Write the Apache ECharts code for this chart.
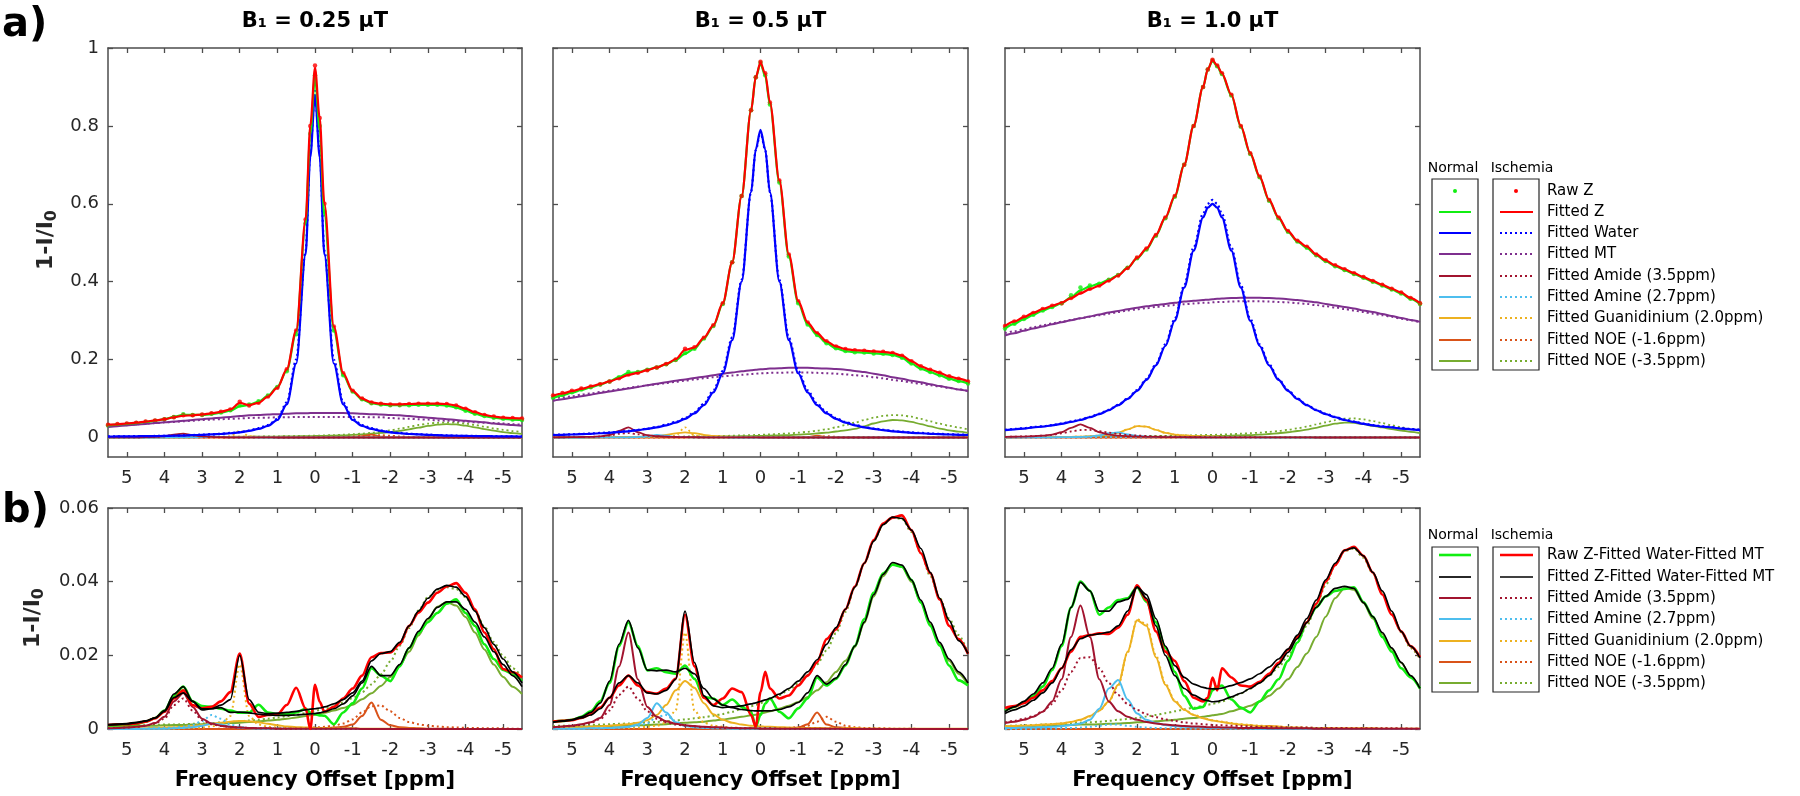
<!DOCTYPE html>
<html><head><meta charset="utf-8">
<script src="https://cdn.jsdelivr.net/npm/echarts@6/dist/echarts.min.js"></script>
<style>html,body{margin:0;padding:0;background:#fff}#c{width:1800px;height:796px}</style>
</head><body><div id="c"></div>
<script>
// ---------------- DATA ----------------
const X = [5.5,5.25,5,4.75,4.5,4.25,4,3.75,3.5,3.25,3,2.75,
 2.5,2.25,2,1.75,1.5,1.25,1,0.75,0.5,0.25,0.125,0,
 -0.125,-0.25,-0.5,-0.75,-1,-1.25,-1.5,-1.75,-2,-2.25,-2.5,-2.75,
 -3,-3.25,-3.5,-3.75,-4,-4.25,-4.5,-4.75,-5,-5.25,-5.5];

const B1_TITLES = ['B\u2081 = 0.25 \u00b5T','B\u2081 = 0.5 \u00b5T','B\u2081 = 1.0 \u00b5T'];
const X_TICKS = [5,4,3,2,1,0,-1,-2,-3,-4,-5];
const Y_TICKS_TOP = [0,0.2,0.4,0.6,0.8,1];
const Y_TICKS_BOT = [0,0.02,0.04,0.06];
const X_NAME = 'Frequency Offset [ppm]';
const LEGEND_TOP = ['Raw Z','Fitted Z','Fitted Water','Fitted MT','Fitted Amide (3.5ppm)','Fitted Amine (2.7ppm)','Fitted Guanidinium (2.0ppm)','Fitted NOE (-1.6ppm)','Fitted NOE (-3.5ppm)'];
const LEGEND_BOT = ['Raw Z-Fitted Water-Fitted MT','Fitted Z-Fitted Water-Fitted MT','Fitted Amide (3.5ppm)','Fitted Amine (2.7ppm)','Fitted Guanidinium (2.0ppm)','Fitted NOE (-1.6ppm)','Fitted NOE (-3.5ppm)'];

// ===== B1 = 0.25 uT =====
const zRawN_a = [0.031,0.033,0.035,0.037,0.040,0.043,0.047,0.053,0.060,0.058,0.058,0.061,
 0.064,0.070,0.083,0.085,0.093,0.108,0.130,0.170,0.265,0.55,0.78,0.93,
 0.80,0.58,0.275,0.16,0.118,0.098,0.088,0.085,0.083,0.083,0.083,0.084,
 0.084,0.084,0.082,0.078,0.069,0.061,0.055,0.051,0.048,0.046,0.045];
const zFitN_a = [0.031,0.033,0.035,0.037,0.040,0.043,0.047,0.053,0.058,0.058,0.058,0.060,
 0.064,0.069,0.080,0.084,0.092,0.107,0.130,0.172,0.27,0.55,0.78,0.925,
 0.79,0.57,0.275,0.16,0.118,0.098,0.088,0.085,0.083,0.083,0.083,0.084,
 0.084,0.084,0.082,0.077,0.069,0.061,0.055,0.051,0.048,0.046,0.045];
const zRawI_a = [0.033,0.035,0.036,0.038,0.041,0.044,0.047,0.052,0.057,0.057,0.059,0.062,
 0.066,0.072,0.092,0.082,0.089,0.105,0.128,0.175,0.275,0.56,0.80,0.955,
 0.82,0.60,0.285,0.165,0.12,0.10,0.09,0.087,0.085,0.085,0.086,0.087,
 0.087,0.087,0.086,0.082,0.074,0.065,0.058,0.054,0.051,0.050,0.049];
const zFitI_a = [0.033,0.034,0.036,0.038,0.041,0.044,0.047,0.052,0.056,0.057,0.059,0.062,
 0.066,0.072,0.089,0.083,0.089,0.105,0.128,0.175,0.275,0.56,0.80,0.95,
 0.82,0.60,0.285,0.165,0.12,0.10,0.09,0.087,0.085,0.085,0.086,0.087,
 0.087,0.087,0.086,0.082,0.074,0.065,0.058,0.054,0.051,0.050,0.049];
const waterN_a = [0.0025,0.0027,0.003,0.0032,0.0035,0.0037,0.004,0.0045,0.005,0.006,0.007,0.008,
 0.009,0.011,0.013,0.017,0.022,0.03,0.045,0.085,0.19,0.47,0.72,0.88,
 0.72,0.47,0.19,0.085,0.045,0.03,0.022,0.017,0.013,0.011,0.009,0.008,
 0.007,0.006,0.005,0.0045,0.004,0.0037,0.0035,0.0032,0.003,0.0027,0.0025];
const waterI_a = [0.0027,0.0029,0.0032,0.0034,0.0037,0.004,0.0043,0.0048,0.0054,0.0064,0.0075,0.0086,
 0.0097,0.0118,0.014,0.018,0.024,0.032,0.048,0.09,0.20,0.48,0.73,0.89,
 0.73,0.48,0.20,0.09,0.048,0.032,0.024,0.018,0.014,0.0118,0.0097,0.0086,
 0.0075,0.0064,0.0054,0.0048,0.0043,0.004,0.0037,0.0034,0.0032,0.0029,0.0027];
const mtN_a = [0.027,0.029,0.031,0.033,0.035,0.037,0.039,0.041,0.043,0.045,0.047,0.049,
 0.051,0.053,0.055,0.057,0.058,0.059,0.060,0.061,0.062,0.062,0.063,0.063,
 0.063,0.063,0.063,0.063,0.062,0.061,0.060,0.059,0.058,0.057,0.055,0.053,
 0.051,0.049,0.047,0.045,0.043,0.041,0.039,0.036,0.034,0.032,0.030];
const mtI_a = [0.030,0.031,0.033,0.034,0.036,0.037,0.039,0.040,0.042,0.043,0.045,0.046,
 0.047,0.048,0.049,0.050,0.051,0.051,0.052,0.052,0.053,0.053,0.053,0.053,
 0.053,0.053,0.053,0.053,0.053,0.053,0.052,0.052,0.050,0.049,0.048,0.047,
 0.046,0.044,0.043,0.042,0.041,0.039,0.038,0.037,0.036,0.034,0.033];
const dRawN_a = [0.0010,0.0011,0.0012,0.0014,0.0020,0.0030,0.0050,0.0090,0.0115,0.0075,0.0062,0.0060,
 0.0055,0.0050,0.0044,0.0045,0.0066,0.0045,0.0040,0.0040,0.0045,0.0055,0.0045,0.0040,
 0.0037,0.0036,0.0013,0.0045,0.0070,0.0110,0.0165,0.0145,0.0130,0.0170,0.0220,0.0260,
 0.0290,0.0315,0.0340,0.0352,0.0315,0.0280,0.0230,0.0190,0.0160,0.0150,0.0130];
const dRawI_a = [0.0011,0.0013,0.0013,0.0015,0.0020,0.0029,0.0047,0.0083,0.0105,0.0065,0.0056,0.0060,
 0.0075,0.0100,0.0205,0.0069,0.0033,0.0038,0.0040,0.0065,0.0112,0.0056,0.0000,0.0120,
 0.0074,0.0047,0.0060,0.0083,0.0110,0.0145,0.0195,0.0206,0.0208,0.0230,0.0280,0.0316,
 0.0343,0.0370,0.0387,0.0396,0.0370,0.0325,0.0262,0.0217,0.0163,0.0154,0.0140];
const dFitN_a = [0.0011,0.0012,0.0014,0.0017,0.0021,0.0030,0.0050,0.0095,0.0115,0.0075,0.0052,0.0055,
 0.0058,0.0045,0.0046,0.0044,0.0040,0.0038,0.0037,0.0037,0.0038,0.0040,0.0041,0.0042,
 0.0044,0.0047,0.0055,0.0068,0.0090,0.0125,0.0170,0.0145,0.0145,0.0175,0.0220,0.0265,
 0.0300,0.0330,0.0345,0.0345,0.0325,0.0290,0.0250,0.0210,0.0175,0.0145,0.0115];
const dFitI_a = [0.0012,0.0013,0.0015,0.0018,0.0022,0.0030,0.0048,0.0085,0.0098,0.0075,0.0055,0.0055,
 0.0065,0.0080,0.0200,0.0080,0.0045,0.0042,0.0043,0.0045,0.0048,0.0052,0.0054,0.0055,
 0.0057,0.0060,0.0068,0.0080,0.0098,0.0130,0.0185,0.0205,0.0210,0.0235,0.0280,0.0320,
 0.0355,0.0380,0.0390,0.0385,0.0360,0.0320,0.0275,0.0230,0.0190,0.0155,0.0125];
const amideN_a = [0.0002,0.0003,0.0004,0.0006,0.0009,0.0016,0.0033,0.0075,0.0098,0.0060,0.0028,0.0015,
 0.0009,0.0006,0.0004,0.0003,0.0002,0.0002,0.0001,0.0001,0.0001,0.0001,0.0001,0.0001,
 0.0001,0.0001,0.0001,0.0001,0.0001,0,0,0,0,0,0,0,
 0,0,0,0,0,0,0,0,0,0,0];
const amideI_a = [0.0002,0.0003,0.0004,0.0006,0.0009,0.0015,0.0028,0.0065,0.0083,0.0050,0.0024,0.0013,
 0.0008,0.0005,0.0004,0.0003,0.0002,0.0002,0.0001,0.0001,0.0001,0.0001,0.0001,0.0001,
 0.0001,0.0001,0.0001,0.0001,0.0001,0,0,0,0,0,0,0,
 0,0,0,0,0,0,0,0,0,0,0];
const amineN_a = [0,0,0,0,0.0001,0.0001,0.0001,0.0002,0.0003,0.0005,0.0009,0.0015,
 0.0012,0.0006,0.0003,0.0002,0.0001,0.0001,0.0001,0,0,0,0,0,
 0,0,0,0,0,0,0,0,0,0,0,0,
 0,0,0,0,0,0,0,0,0,0,0];
const amineI_a = [0,0,0,0.0001,0.0001,0.0002,0.0003,0.0004,0.0006,0.0011,0.0022,0.0038,
 0.0028,0.0012,0.0006,0.0003,0.0002,0.0001,0.0001,0.0001,0,0,0,0,
 0,0,0,0,0,0,0,0,0,0,0,0,
 0,0,0,0,0,0,0,0,0,0,0];
const guanN_a = [0.0001,0.0001,0.0001,0.0002,0.0002,0.0003,0.0004,0.0005,0.0006,0.0008,0.0011,0.0014,
 0.0017,0.0020,0.0022,0.0021,0.0018,0.0014,0.0010,0.0007,0.0005,0.0004,0.0004,0.0003,
 0.0003,0.0003,0.0002,0.0002,0.0002,0.0001,0.0001,0.0001,0.0001,0.0001,0.0001,0.0001,
 0,0,0,0,0,0,0,0,0,0,0];
const guanI_a = [0,0,0,0,0,0.0001,0.0001,0.0001,0.0002,0.0003,0.0004,0.0007,
 0.0012,0.0035,0.0175,0.0035,0.0012,0.0006,0.0004,0.0003,0.0002,0.0001,0.0001,0.0001,
 0.0001,0.0001,0.0001,0,0,0,0,0,0,0,0,0,
 0,0,0,0,0,0,0,0,0,0,0];
const noe16N_a = [0,0,0,0,0,0,0,0,0,0,0,0,
 0,0,0,0,0,0,0,0,0.0001,0.0001,0.0001,0.0001,
 0.0002,0.0002,0.0004,0.0006,0.0012,0.0035,0.0072,0.0025,0.0010,0.0005,0.0003,0.0002,
 0.0001,0.0001,0.0001,0,0,0,0,0,0,0,0];
const noe16I_a = [0,0,0,0,0,0,0,0,0,0,0,0,
 0.0001,0.0001,0.0001,0.0001,0.0001,0.0002,0.0002,0.0002,0.0003,0.0003,0.0004,0.0004,
 0.0005,0.0006,0.0009,0.0015,0.0026,0.0045,0.0062,0.0064,0.0048,0.0030,0.0019,0.0013,
 0.0009,0.0007,0.0005,0.0004,0.0003,0.0003,0.0002,0.0002,0.0002,0.0001,0.0001];
const noe35N_a = [0.0007,0.0007,0.0008,0.0008,0.0009,0.0009,0.0010,0.0011,0.0011,0.0012,0.0013,0.0014,
 0.0015,0.0016,0.0017,0.0019,0.0021,0.0023,0.0025,0.0028,0.0031,0.0035,0.0037,0.0039,
 0.0041,0.0044,0.0050,0.0057,0.0066,0.0081,0.0097,0.0117,0.0141,0.0173,0.0210,0.0254,
 0.0297,0.0332,0.0345,0.0335,0.0304,0.0262,0.0216,0.0175,0.0141,0.0115,0.0095];
const noe35I_a = [0.0008,0.0008,0.0009,0.0009,0.0010,0.0011,0.0012,0.0012,0.0013,0.0014,0.0015,0.0016,
 0.0018,0.0019,0.0021,0.0023,0.0025,0.0028,0.0031,0.0035,0.0039,0.0043,0.0046,0.0049,
 0.0052,0.0055,0.0062,0.0072,0.0084,0.0100,0.0121,0.0148,0.0183,0.0226,0.0274,0.0322,
 0.0358,0.0378,0.0385,0.0380,0.0358,0.0322,0.0278,0.0236,0.0198,0.0165,0.0140];

// ===== B1 = 0.5 uT =====
const zRawN_b = [0.102,0.109,0.116,0.123,0.129,0.136,0.144,0.155,0.168,0.168,0.174,0.180,
 0.188,0.199,0.217,0.228,0.254,0.286,0.343,0.45,0.62,0.84,0.925,0.962,
 0.93,0.855,0.655,0.465,0.345,0.29,0.263,0.242,0.229,0.222,0.219,0.218,
 0.216,0.215,0.212,0.205,0.190,0.177,0.168,0.160,0.151,0.145,0.139];
const zFitN_b = [0.101,0.108,0.115,0.122,0.129,0.136,0.144,0.155,0.166,0.168,0.174,0.180,
 0.188,0.199,0.215,0.228,0.254,0.286,0.343,0.45,0.62,0.84,0.925,0.96,
 0.928,0.855,0.655,0.465,0.345,0.29,0.263,0.242,0.229,0.222,0.219,0.218,
 0.216,0.215,0.212,0.205,0.190,0.177,0.168,0.160,0.151,0.145,0.139];
const zRawI_b = [0.108,0.114,0.120,0.126,0.131,0.137,0.144,0.152,0.162,0.166,0.173,0.180,
 0.189,0.200,0.228,0.232,0.256,0.288,0.345,0.45,0.62,0.84,0.925,0.965,
 0.935,0.86,0.66,0.47,0.35,0.295,0.268,0.247,0.234,0.227,0.224,0.223,
 0.221,0.220,0.217,0.210,0.196,0.183,0.174,0.166,0.157,0.151,0.144];
const zFitI_b = [0.107,0.113,0.119,0.125,0.131,0.137,0.144,0.152,0.161,0.166,0.173,0.180,
 0.189,0.201,0.225,0.231,0.256,0.288,0.345,0.45,0.62,0.84,0.925,0.963,
 0.933,0.86,0.66,0.47,0.35,0.295,0.268,0.247,0.234,0.227,0.224,0.223,
 0.221,0.220,0.217,0.210,0.196,0.183,0.174,0.166,0.157,0.151,0.144];
const waterN_b = [0.0065,0.007,0.0078,0.0086,0.0096,0.011,0.012,0.014,0.016,0.019,0.022,0.026,
 0.031,0.038,0.048,0.062,0.083,0.116,0.165,0.25,0.40,0.63,0.74,0.79,
 0.74,0.63,0.40,0.25,0.165,0.116,0.083,0.062,0.048,0.038,0.031,0.026,
 0.022,0.019,0.016,0.014,0.012,0.011,0.0096,0.0086,0.0078,0.007,0.0065];
const waterI_b = [0.007,0.0076,0.0084,0.0093,0.0104,0.0118,0.013,0.015,0.017,0.020,0.023,0.027,
 0.033,0.040,0.050,0.065,0.087,0.121,0.171,0.257,0.405,0.63,0.738,0.785,
 0.738,0.63,0.405,0.257,0.171,0.121,0.087,0.065,0.050,0.040,0.033,0.027,
 0.023,0.020,0.017,0.015,0.013,0.0118,0.0104,0.0093,0.0084,0.0076,0.007];
const mtN_b = [0.094,0.098,0.102,0.106,0.110,0.114,0.118,0.122,0.126,0.130,0.134,0.138,
 0.142,0.146,0.149,0.153,0.156,0.160,0.164,0.167,0.170,0.173,0.174,0.175,
 0.176,0.177,0.178,0.179,0.179,0.179,0.178,0.177,0.176,0.174,0.171,0.168,
 0.164,0.160,0.155,0.151,0.146,0.142,0.137,0.132,0.128,0.123,0.119];
const mtI_b = [0.100,0.103,0.106,0.110,0.113,0.117,0.120,0.124,0.127,0.131,0.134,0.137,
 0.140,0.143,0.146,0.149,0.152,0.155,0.157,0.159,0.161,0.163,0.164,0.165,
 0.165,0.166,0.166,0.167,0.167,0.167,0.166,0.165,0.164,0.162,0.160,0.158,
 0.155,0.152,0.148,0.145,0.141,0.138,0.134,0.131,0.127,0.124,0.120];
const dRawN_b = [0.0020,0.0022,0.0025,0.0033,0.0048,0.0075,0.0125,0.0225,0.0290,0.0225,0.0159,0.0165,
 0.0154,0.0150,0.0172,0.0136,0.0087,0.0083,0.0065,0.0080,0.0060,0.0047,0.0006,0.0038,
 0.0069,0.0083,0.0047,0.0029,0.0056,0.0083,0.0140,0.0118,0.0136,0.0172,0.0226,0.0298,
 0.0370,0.0423,0.0446,0.0441,0.0405,0.0343,0.0280,0.0226,0.0172,0.0132,0.0118];
const dRawI_b = [0.0020,0.0022,0.0024,0.0030,0.0040,0.0058,0.0085,0.0118,0.0145,0.0118,0.0100,0.0096,
 0.0110,0.0136,0.0310,0.0170,0.0085,0.0065,0.0083,0.0110,0.0100,0.0038,0.0006,0.0100,
 0.0155,0.0110,0.0083,0.0091,0.0118,0.0145,0.0181,0.0244,0.0270,0.0325,0.0387,0.0450,
 0.0513,0.0558,0.0574,0.0580,0.0540,0.0477,0.0423,0.0352,0.0280,0.0244,0.0204];
const dFitN_b = [0.0019,0.0022,0.0025,0.0033,0.0045,0.0070,0.0130,0.0230,0.0295,0.0220,0.0160,0.0158,
 0.0160,0.0155,0.0165,0.0150,0.0110,0.0082,0.0065,0.0058,0.0053,0.0050,0.0049,0.0049,
 0.0049,0.0049,0.0053,0.0060,0.0072,0.0098,0.0145,0.0122,0.0138,0.0175,0.0225,0.0290,
 0.0365,0.0420,0.0452,0.0445,0.0405,0.0350,0.0290,0.0235,0.0190,0.0155,0.0125];
const dFitI_b = [0.0018,0.0021,0.0024,0.0030,0.0038,0.0055,0.0085,0.0125,0.0145,0.0125,0.0098,0.0095,
 0.0105,0.0135,0.0320,0.0180,0.0090,0.0063,0.0058,0.0060,0.0063,0.0068,0.0071,0.0075,
 0.0079,0.0083,0.0095,0.0110,0.0130,0.0155,0.0188,0.0230,0.0275,0.0325,0.0385,0.0450,
 0.0510,0.0555,0.0575,0.0572,0.0540,0.0490,0.0425,0.0355,0.0295,0.0240,0.0205];
const amideN_b = [0.0005,0.0007,0.0009,0.0013,0.0018,0.0030,0.0065,0.0170,0.0262,0.0135,0.0060,0.0033,
 0.0021,0.0014,0.0010,0.0008,0.0006,0.0005,0.0004,0.0003,0.0002,0.0002,0.0002,0.0001,
 0.0001,0.0001,0.0001,0.0001,0.0001,0.0001,0.0001,0.0001,0.0001,0,0,0,
 0,0,0,0,0,0,0,0,0,0,0];
const amideI_b = [0.0005,0.0006,0.0008,0.0011,0.0016,0.0027,0.0050,0.0093,0.0115,0.0082,0.0048,0.0028,
 0.0018,0.0012,0.0009,0.0007,0.0005,0.0004,0.0003,0.0003,0.0002,0.0002,0.0002,0.0002,
 0.0002,0.0002,0.0001,0.0001,0.0001,0.0001,0.0001,0.0001,0.0001,0.0001,0,0,
 0,0,0,0,0,0,0,0,0,0,0];
const amineN_b = [0.0001,0.0001,0.0001,0.0001,0.0002,0.0002,0.0003,0.0004,0.0006,0.0012,0.0030,0.0070,
 0.0045,0.0018,0.0008,0.0005,0.0003,0.0002,0.0002,0.0001,0.0001,0.0001,0.0001,0.0001,
 0.0001,0.0001,0,0,0,0,0,0,0,0,0,0,
 0,0,0,0,0,0,0,0,0,0,0];
const amineI_b = [0.0001,0.0001,0.0001,0.0001,0.0002,0.0002,0.0003,0.0004,0.0006,0.0009,0.0015,0.0033,
 0.0038,0.0020,0.0009,0.0005,0.0003,0.0002,0.0002,0.0001,0.0001,0.0001,0.0001,0.0001,
 0.0001,0.0001,0,0,0,0,0,0,0,0,0,0,
 0,0,0,0,0,0,0,0,0,0,0];
const guanN_b = [0.0003,0.0003,0.0004,0.0005,0.0006,0.0007,0.0009,0.0011,0.0013,0.0017,0.0024,0.0038,
 0.0065,0.0105,0.0130,0.0112,0.0070,0.0040,0.0025,0.0017,0.0012,0.0009,0.0008,0.0007,
 0.0006,0.0006,0.0005,0.0004,0.0003,0.0003,0.0003,0.0002,0.0002,0.0002,0.0002,0.0001,
 0.0001,0.0001,0.0001,0.0001,0.0001,0.0001,0.0001,0.0001,0.0001,0.0001,0.0001];
const guanI_b = [0.0001,0.0001,0.0001,0.0001,0.0002,0.0002,0.0002,0.0003,0.0003,0.0004,0.0006,0.0009,
 0.0017,0.0050,0.0262,0.0050,0.0017,0.0009,0.0006,0.0004,0.0003,0.0003,0.0002,0.0002,
 0.0002,0.0002,0.0001,0.0001,0.0001,0.0001,0.0001,0.0001,0.0001,0,0,0,
 0,0,0,0,0,0,0,0,0,0,0];
const noe16N_b = [0,0,0,0,0,0,0,0,0,0,0,0,
 0,0,0,0,0,0,0,0,0,0,0,0,
 0.0001,0.0001,0.0001,0.0002,0.0004,0.0013,0.0045,0.0012,0.0005,0.0003,0.0002,0.0001,
 0.0001,0,0,0,0,0,0,0,0,0,0];
const noe16I_b = [0,0,0,0,0,0,0,0,0,0,0,0,
 0,0,0,0,0,0,0,0,0,0.0001,0.0001,0.0001,
 0.0001,0.0001,0.0002,0.0003,0.0005,0.0009,0.0020,0.0033,0.0020,0.0009,0.0005,0.0003,
 0.0002,0.0002,0.0001,0.0001,0.0001,0,0,0,0,0,0];
const noe35N_b = [0.0005,0.0006,0.0006,0.0007,0.0007,0.0008,0.0008,0.0009,0.0010,0.0010,0.0011,0.0012,
 0.0013,0.0015,0.0017,0.0018,0.0020,0.0023,0.0026,0.0029,0.0033,0.0037,0.0039,0.0041,
 0.0045,0.0048,0.0055,0.0063,0.0073,0.0087,0.0105,0.0127,0.0155,0.0185,0.0222,0.0288,
 0.0360,0.0415,0.0450,0.0440,0.0400,0.0345,0.0285,0.0230,0.0185,0.0150,0.0120];
const noe35I_b = [0.0008,0.0009,0.0009,0.0010,0.0011,0.0012,0.0013,0.0014,0.0015,0.0016,0.0018,0.0019,
 0.0021,0.0023,0.0026,0.0029,0.0032,0.0036,0.0041,0.0047,0.0054,0.0062,0.0066,0.0070,
 0.0075,0.0080,0.0092,0.0106,0.0124,0.0147,0.0176,0.0213,0.0260,0.0318,0.0383,0.0450,
 0.0510,0.0555,0.0575,0.0570,0.0535,0.0478,0.0415,0.0355,0.0300,0.0255,0.0205];

// ===== B1 = 1.0 uT =====
const zRawN_c = [0.280,0.292,0.304,0.315,0.326,0.335,0.345,0.365,0.385,0.390,0.395,0.405,
 0.417,0.436,0.460,0.483,0.518,0.563,0.618,0.700,0.800,0.900,0.945,0.968,
 0.953,0.933,0.878,0.798,0.728,0.668,0.608,0.563,0.528,0.503,0.487,0.468,
 0.453,0.440,0.430,0.420,0.410,0.400,0.390,0.380,0.370,0.356,0.343];
const zFitN_c = [0.280,0.292,0.304,0.315,0.326,0.335,0.345,0.360,0.378,0.388,0.395,0.405,
 0.417,0.436,0.460,0.483,0.518,0.563,0.618,0.700,0.800,0.900,0.945,0.967,
 0.953,0.933,0.878,0.798,0.728,0.668,0.608,0.563,0.528,0.503,0.487,0.468,
 0.453,0.440,0.430,0.420,0.410,0.400,0.390,0.380,0.370,0.356,0.343];
const zRawI_c = [0.286,0.298,0.310,0.320,0.330,0.338,0.345,0.358,0.372,0.382,0.390,0.403,
 0.416,0.435,0.462,0.485,0.520,0.565,0.620,0.700,0.800,0.900,0.945,0.970,
 0.955,0.935,0.880,0.800,0.730,0.670,0.610,0.565,0.530,0.505,0.490,0.470,
 0.455,0.442,0.432,0.422,0.412,0.402,0.392,0.382,0.372,0.358,0.345];
const zFitI_c = [0.286,0.298,0.309,0.320,0.330,0.338,0.346,0.358,0.370,0.381,0.390,0.403,
 0.416,0.435,0.461,0.485,0.520,0.565,0.620,0.700,0.800,0.900,0.945,0.969,
 0.955,0.935,0.880,0.800,0.730,0.670,0.610,0.565,0.530,0.505,0.490,0.470,
 0.455,0.442,0.432,0.422,0.412,0.402,0.392,0.382,0.372,0.358,0.345];
const waterN_c = [0.019,0.021,0.023,0.026,0.028,0.031,0.035,0.040,0.045,0.052,0.060,0.070,
 0.083,0.099,0.120,0.148,0.185,0.235,0.300,0.385,0.480,0.565,0.590,0.600,
 0.590,0.565,0.480,0.385,0.300,0.235,0.185,0.148,0.120,0.099,0.083,0.070,
 0.060,0.052,0.045,0.040,0.035,0.031,0.028,0.026,0.023,0.021,0.019];
const waterI_c = [0.020,0.022,0.024,0.027,0.029,0.032,0.036,0.041,0.046,0.053,0.061,0.071,
 0.084,0.100,0.122,0.150,0.188,0.239,0.305,0.391,0.488,0.575,0.600,0.610,
 0.600,0.575,0.488,0.391,0.305,0.239,0.188,0.150,0.122,0.100,0.084,0.071,
 0.061,0.053,0.046,0.041,0.036,0.032,0.029,0.027,0.024,0.022,0.020];
const mtN_c = [0.262,0.268,0.274,0.280,0.285,0.291,0.296,0.301,0.306,0.311,0.316,0.321,
 0.325,0.329,0.333,0.337,0.340,0.343,0.346,0.349,0.351,0.353,0.354,0.355,
 0.356,0.357,0.358,0.359,0.359,0.359,0.358,0.357,0.355,0.353,0.350,0.347,
 0.343,0.339,0.335,0.331,0.326,0.322,0.317,0.312,0.307,0.302,0.297];
const mtI_c = [0.268,0.273,0.278,0.283,0.288,0.293,0.297,0.302,0.306,0.310,0.314,0.318,
 0.322,0.326,0.329,0.332,0.335,0.338,0.340,0.342,0.344,0.346,0.346,0.347,
 0.348,0.348,0.349,0.350,0.350,0.350,0.349,0.348,0.347,0.345,0.343,0.340,
 0.337,0.334,0.330,0.326,0.322,0.318,0.314,0.310,0.305,0.301,0.296];
const dRawN_c = [0.0050,0.0060,0.0072,0.0090,0.0115,0.0160,0.0225,0.0330,0.0400,0.0375,0.0310,0.0330,
 0.0350,0.0355,0.0385,0.0345,0.0290,0.0220,0.0155,0.0090,0.0055,0.0060,0.0080,0.0105,
 0.0115,0.0118,0.0080,0.0058,0.0045,0.0075,0.0105,0.0135,0.0185,0.0235,0.0290,0.0330,
 0.0360,0.0375,0.0380,0.0385,0.0345,0.0305,0.0250,0.0210,0.0165,0.0140,0.0110];
const dRawI_c = [0.0057,0.0062,0.0070,0.0085,0.0105,0.0130,0.0165,0.0210,0.0250,0.0255,0.0260,0.0258,
 0.0275,0.0310,0.0390,0.0350,0.0265,0.0210,0.0185,0.0130,0.0085,0.0075,0.0085,0.0140,
 0.0105,0.0165,0.0140,0.0118,0.0115,0.0128,0.0150,0.0180,0.0215,0.0250,0.0290,0.0340,
 0.0400,0.0445,0.0485,0.0495,0.0470,0.0425,0.0365,0.0310,0.0265,0.0225,0.0195];
const dFitN_c = [0.0047,0.0060,0.0075,0.0095,0.0125,0.0165,0.0230,0.0330,0.0398,0.0375,0.0320,0.0320,
 0.0345,0.0352,0.0385,0.0355,0.0280,0.0200,0.0145,0.0110,0.0092,0.0080,0.0077,0.0074,
 0.0075,0.0078,0.0087,0.0097,0.0110,0.0125,0.0145,0.0175,0.0208,0.0245,0.0289,0.0330,
 0.0360,0.0382,0.0387,0.0382,0.0343,0.0305,0.0262,0.0220,0.0181,0.0145,0.0110];
const dFitI_c = [0.0042,0.0052,0.0062,0.0078,0.0098,0.0125,0.0165,0.0215,0.0245,0.0255,0.0258,0.0263,
 0.0280,0.0320,0.0385,0.0365,0.0300,0.0225,0.0172,0.0140,0.0122,0.0113,0.0110,0.0109,
 0.0109,0.0111,0.0118,0.0126,0.0136,0.0150,0.0168,0.0190,0.0217,0.0255,0.0300,0.0350,
 0.0405,0.0450,0.0485,0.0492,0.0470,0.0425,0.0375,0.0320,0.0265,0.0225,0.0193];
const amideN_c = [0.0016,0.0020,0.0025,0.0033,0.0047,0.0075,0.0135,0.0250,0.0335,0.0250,0.0135,0.0075,
 0.0048,0.0033,0.0025,0.0019,0.0015,0.0012,0.0010,0.0008,0.0007,0.0006,0.0005,0.0005,
 0.0005,0.0004,0.0004,0.0003,0.0003,0.0003,0.0002,0.0002,0.0002,0.0002,0.0002,0.0001,
 0.0001,0.0001,0.0001,0.0001,0.0001,0.0001,0.0001,0.0001,0.0001,0.0001,0.0001];
const amideI_c = [0.0018,0.0022,0.0028,0.0035,0.0048,0.0068,0.0105,0.0155,0.0193,0.0195,0.0165,0.0125,
 0.0092,0.0068,0.0052,0.0040,0.0032,0.0026,0.0022,0.0018,0.0015,0.0013,0.0012,0.0011,
 0.0010,0.0010,0.0009,0.0008,0.0007,0.0006,0.0006,0.0005,0.0004,0.0004,0.0004,0.0003,
 0.0003,0.0003,0.0003,0.0002,0.0002,0.0002,0.0002,0.0002,0.0002,0.0001,0.0001];
const amineN_c = [0.0003,0.0003,0.0004,0.0004,0.0005,0.0006,0.0008,0.0011,0.0015,0.0025,0.0055,0.0110,
 0.0133,0.0080,0.0042,0.0025,0.0016,0.0011,0.0008,0.0006,0.0005,0.0004,0.0003,0.0003,
 0.0003,0.0003,0.0002,0.0002,0.0002,0.0001,0.0001,0.0001,0.0001,0.0001,0.0001,0.0001,
 0,0,0,0,0,0,0,0,0,0,0];
const amineI_c = [0,0,0,0,0.0001,0.0001,0.0002,0.0003,0.0004,0.0006,0.0009,0.0012,
 0.0012,0.0009,0.0006,0.0004,0.0003,0.0002,0.0002,0.0001,0.0001,0.0001,0.0001,0.0001,
 0.0001,0.0001,0,0,0,0,0,0,0,0,0,0,
 0,0,0,0,0,0,0,0,0,0,0];
const guanN_c = [0.0007,0.0008,0.0009,0.0010,0.0012,0.0013,0.0015,0.0019,0.0025,0.0035,0.0050,0.0075,
 0.0120,0.0210,0.0295,0.0280,0.0195,0.0120,0.0075,0.0052,0.0038,0.0029,0.0026,0.0023,
 0.0021,0.0019,0.0015,0.0012,0.0010,0.0008,0.0007,0.0006,0.0004,0.0004,0.0003,0.0003,
 0.0003,0.0002,0.0002,0.0002,0.0002,0.0002,0.0001,0.0001,0.0001,0.0001,0.0001];
const guanI_c = [0.0007,0.0008,0.0009,0.0010,0.0011,0.0013,0.0015,0.0019,0.0024,0.0034,0.0049,0.0074,
 0.0118,0.0208,0.0298,0.0285,0.0200,0.0123,0.0077,0.0053,0.0039,0.0030,0.0027,0.0024,
 0.0022,0.0020,0.0016,0.0013,0.0011,0.0009,0.0008,0.0007,0.0005,0.0004,0.0004,0.0003,
 0.0003,0.0003,0.0002,0.0002,0.0002,0.0002,0.0002,0.0001,0.0001,0.0001,0.0001];
const noe16N_c = [0,0,0,0,0,0,0,0,0,0,0,0,
 0,0,0,0,0,0,0,0,0,0,0,0,
 0,0,0.0001,0.0001,0.0002,0.0004,0.0008,0.0006,0.0002,0.0001,0,0,
 0,0,0,0,0,0,0,0,0,0,0];
const noe16I_c = [0,0,0,0,0,0,0,0,0,0,0,0,
 0,0,0,0,0,0,0,0,0,0,0,0,
 0.0001,0.0001,0.0001,0.0002,0.0003,0.0005,0.0007,0.0006,0.0003,0.0002,0.0001,0.0001,
 0,0,0,0,0,0,0,0,0,0,0];
const noe35N_c = [0.0007,0.0007,0.0008,0.0008,0.0009,0.0009,0.0010,0.0011,0.0012,0.0012,0.0013,0.0014,
 0.0015,0.0016,0.0018,0.0019,0.0021,0.0023,0.0025,0.0028,0.0030,0.0033,0.0035,0.0037,
 0.0039,0.0041,0.0048,0.0055,0.0063,0.0075,0.0090,0.0110,0.0135,0.0168,0.0205,0.0250,
 0.0305,0.0355,0.0383,0.0378,0.0342,0.0300,0.0258,0.0218,0.0180,0.0144,0.0110];
const noe35I_c = [0.0008,0.0009,0.0010,0.0011,0.0012,0.0013,0.0014,0.0015,0.0017,0.0018,0.0020,0.0022,
 0.0025,0.0027,0.0030,0.0034,0.0038,0.0043,0.0048,0.0053,0.0058,0.0063,0.0066,0.0068,
 0.0071,0.0075,0.0085,0.0097,0.0110,0.0125,0.0145,0.0168,0.0198,0.0235,0.0280,0.0335,
 0.0390,0.0445,0.0483,0.0490,0.0465,0.0422,0.0370,0.0315,0.0263,0.0220,0.0190];

// ---------------- BUILD ----------------
const PANELS = [
 {zRawN:zRawN_a,zFitN:zFitN_a,zRawI:zRawI_a,zFitI:zFitI_a,waterN:waterN_a,waterI:waterI_a,mtN:mtN_a,mtI:mtI_a,
  dRawN:dRawN_a,dRawI:dRawI_a,dFitN:dFitN_a,dFitI:dFitI_a,
  pools:{amide:[amideN_a,amideI_a],amine:[amineN_a,amineI_a],guan:[guanN_a,guanI_a],noe16:[noe16N_a,noe16I_a],noe35:[noe35N_a,noe35I_a]}},
 {zRawN:zRawN_b,zFitN:zFitN_b,zRawI:zRawI_b,zFitI:zFitI_b,waterN:waterN_b,waterI:waterI_b,mtN:mtN_b,mtI:mtI_b,
  dRawN:dRawN_b,dRawI:dRawI_b,dFitN:dFitN_b,dFitI:dFitI_b,
  pools:{amide:[amideN_b,amideI_b],amine:[amineN_b,amineI_b],guan:[guanN_b,guanI_b],noe16:[noe16N_b,noe16I_b],noe35:[noe35N_b,noe35I_b]}},
 {zRawN:zRawN_c,zFitN:zFitN_c,zRawI:zRawI_c,zFitI:zFitI_c,waterN:waterN_c,waterI:waterI_c,mtN:mtN_c,mtI:mtI_c,
  dRawN:dRawN_c,dRawI:dRawI_c,dFitN:dFitN_c,dFitI:dFitI_c,
  pools:{amide:[amideN_c,amideI_c],amine:[amineN_c,amineI_c],guan:[guanN_c,guanI_c],noe16:[noe16N_c,noe16I_c],noe35:[noe35N_c,noe35I_c]}}
];

const C = {green:'#11ee11', red:'#ff0000', blue:'#0000ff', mt:'#7e2f8e', amide:'#a2142f', amine:'#4dbeee',
  guan:'#edb120', noe16:'#d95319', noe35:'#77ac30', black:'#000000'};
const POOL_ORDER = ['noe35','noe16','guan','amine','amide'];
const FONT = "'DejaVu Sans', sans-serif";
const AX = '#4d4d4d', TXT = '#262626';
const DOT = [2,3];

const COL_LEFT = [108, 553, 1005];
const COL_W = [414, 415, 415];
const ROW_TOP = [48, 508];
const ROW_H = [409, 221];

const grids = [], xAxes = [], yAxes = [], series = [];
for (let r = 0; r < 2; r++) for (let c = 0; c < 3; c++) {
  const g = r*3 + c;
  grids.push({left: COL_LEFT[c], top: ROW_TOP[r], width: COL_W[c], height: ROW_H[r], containLabel:false});
  const mk = (pos, show) => ({type:'value', gridIndex:g, position:pos, min:-5.5, max:5.5, inverse:true,
    axisLine:{show:true, onZero:false, lineStyle:{color:AX, width:1.5}},
    axisTick:{show:true, inside:true, length:5, customValues:X_TICKS, lineStyle:{color:AX, width:1.3}},
    axisLabel:{show:show, customValues:X_TICKS, fontSize:18, fontFamily:FONT, color:TXT, margin:12, formatter:v=>String(v)},
    splitLine:{show:false}});
  xAxes.push(mk('bottom', true), mk('top', false));
  const yt = r===0 ? Y_TICKS_TOP : Y_TICKS_BOT;
  const ymin = r===0 ? -0.05 : 0, ymax = r===0 ? 1 : 0.06;
  const mky = (pos, show) => ({type:'value', gridIndex:g, position:pos, min:ymin, max:ymax,
    axisLine:{show:true, onZero:false, lineStyle:{color:AX, width:1.5}},
    axisTick:{show:true, inside:true, length:5, customValues:yt, lineStyle:{color:AX, width:1.3}},
    axisLabel:{show:show, customValues:yt, fontSize:18, fontFamily:FONT, color:TXT, margin:9, formatter:v=>String(v)},
    splitLine:{show:false}});
  yAxes.push(mky('left', c===0), mky('right', false));
}

function pts(arr){ return X.map((x,i)=>[x, arr[i]]); }
function line(g, arr, color, width, dotted){
  return {type:'line', xAxisIndex:2*g, yAxisIndex:2*g, data:pts(arr), symbol:'none', smooth:0.3, smoothMonotone:'x',
    silent:true, animation:false, lineStyle:{color:color, width:width, type: dotted ? DOT : 'solid'}};
}
function dots(g, arr, color){
  return {type:'scatter', xAxisIndex:2*g, yAxisIndex:2*g, data:pts(arr), symbol:'circle', symbolSize:4.5,
    silent:true, animation:false, itemStyle:{color:color}};
}

PANELS.forEach((P, c) => {
  const gt = c;
  POOL_ORDER.forEach(k => {
    series.push(line(gt, P.pools[k][0], C[k], 1.8, false));
    series.push(line(gt, P.pools[k][1], C[k], 1.8, true));
  });
  series.push(line(gt, P.mtN, C.mt, 2, false));
  series.push(line(gt, P.mtI, C.mt, 2, true));
  series.push(line(gt, P.waterN, C.blue, 2.2, false));
  series.push(line(gt, P.waterI, C.blue, 2.2, true));
  series.push(line(gt, P.zFitN, C.green, 2.2, false));
  series.push(dots(gt, P.zRawN, C.green));
  series.push(line(gt, P.zFitI, C.red, 2.2, false));
  series.push(dots(gt, P.zRawI, C.red));
  const gb = 3 + c;
  POOL_ORDER.forEach(k => {
    series.push(line(gb, P.pools[k][0], C[k], 2, false));
    series.push(line(gb, P.pools[k][1], C[k], 2, true));
  });
  series.push(line(gb, P.dRawN, C.green, 2.6, false));
  series.push(line(gb, P.dRawI, C.red, 2.6, false));
  series.push(line(gb, P.dFitN, C.black, 1.7, false));
  series.push(line(gb, P.dFitI, C.black, 1.7, false));
});

// ---------------- TEXT / LEGENDS ----------------
const G = [];
function txt(x, y, s, size, bold, align, extra){
  return Object.assign({type:'text', x:x, y:y, silent:true, style:{text:s, fontSize:size, fontFamily:FONT,
    fontWeight: bold ? 'bold' : 'normal', fill:'#000', align:align||'center', verticalAlign:'middle',
    textAlign:align||'center', textVerticalAlign:'middle'}}, extra||{});
}
G.push(txt(2, 26, 'a)', 40, true, 'left'));
G.push(txt(2, 512, 'b)', 40, true, 'left'));
for (let c = 0; c < 3; c++) {
  const cx = COL_LEFT[c] + COL_W[c]/2;
  G.push(txt(cx, 22, B1_TITLES[c], 21, true));
  G.push(txt(cx, 781, X_NAME, 21, true));
}
function yname(x, y){
  return {type:'text', x:x, y:y, rotation:Math.PI/2, silent:true,
    style:{text:'{b|1-I/I}{s|0}', fill:'#262626', align:'center', verticalAlign:'middle', textAlign:'center', textVerticalAlign:'middle',
      rich:{b:{fontSize:22, fontWeight:'bold', fontFamily:FONT, fill:'#262626'},
            s:{fontSize:16, fontWeight:'bold', fontFamily:FONT, fill:'#262626', padding:[12,0,0,0]}}}};
}
G.push(yname(46, 240));
G.push(yname(33, 618));

function legend(items, headerY, boxTop, boxBot, rows, kinds){
  G.push(txt(1453, headerY, 'Normal', 14, false));
  G.push(txt(1522, headerY, 'Ischemia', 14, false));
  G.push({type:'rect', silent:true, shape:{x:1432, y:boxTop, width:46, height:boxBot-boxTop}, style:{fill:'none', stroke:'#262626', lineWidth:1.2}});
  G.push({type:'rect', silent:true, shape:{x:1493, y:boxTop, width:46, height:boxBot-boxTop}, style:{fill:'none', stroke:'#262626', lineWidth:1.2}});
  items.forEach((lab, i) => {
    const y = rows[i], k = kinds[i];
    if (k.dot) {
      G.push({type:'circle', silent:true, shape:{cx:1455, cy:y, r:2}, style:{fill:k.n}});
      G.push({type:'circle', silent:true, shape:{cx:1516, cy:y, r:2}, style:{fill:k.i}});
    } else {
      G.push({type:'line', silent:true, shape:{x1:1439, y1:y, x2:1471, y2:y}, style:{stroke:k.n, lineWidth:k.w||2}});
      G.push({type:'line', silent:true, shape:{x1:1500, y1:y, x2:1533, y2:y}, style:{stroke:k.i, lineWidth:k.w||2, lineDash: k.idot ? DOT : null}});
    }
    G.push(txt(1547, y, lab, 15, false, 'left'));
  });
}
legend(LEGEND_TOP, 168, 179, 370, [191,212,233,254,276,297,318,340,361], [
  {dot:true, n:C.green, i:C.red},
  {n:C.green, i:C.red},
  {n:C.blue, i:C.blue, idot:true},
  {n:C.mt, i:C.mt, idot:true},
  {n:C.amide, i:C.amide, idot:true},
  {n:C.amine, i:C.amine, idot:true},
  {n:C.guan, i:C.guan, idot:true},
  {n:C.noe16, i:C.noe16, idot:true},
  {n:C.noe35, i:C.noe35, idot:true}]);
legend(LEGEND_BOT, 535, 547, 692, [555,577,598,619,641,662,683], [
  {n:C.green, i:C.red, w:2.6},
  {n:C.black, i:C.black, w:1.7},
  {n:C.amide, i:C.amide, idot:true},
  {n:C.amine, i:C.amine, idot:true},
  {n:C.guan, i:C.guan, idot:true},
  {n:C.noe16, i:C.noe16, idot:true},
  {n:C.noe35, i:C.noe35, idot:true}]);

const chart = echarts.init(document.getElementById('c'), null, {renderer:'canvas'});
chart.setOption({animation:false, backgroundColor:'#ffffff', grid:grids, xAxis:xAxes, yAxis:yAxes, series:series, graphic:{elements:G}});
</script>
</body></html>
